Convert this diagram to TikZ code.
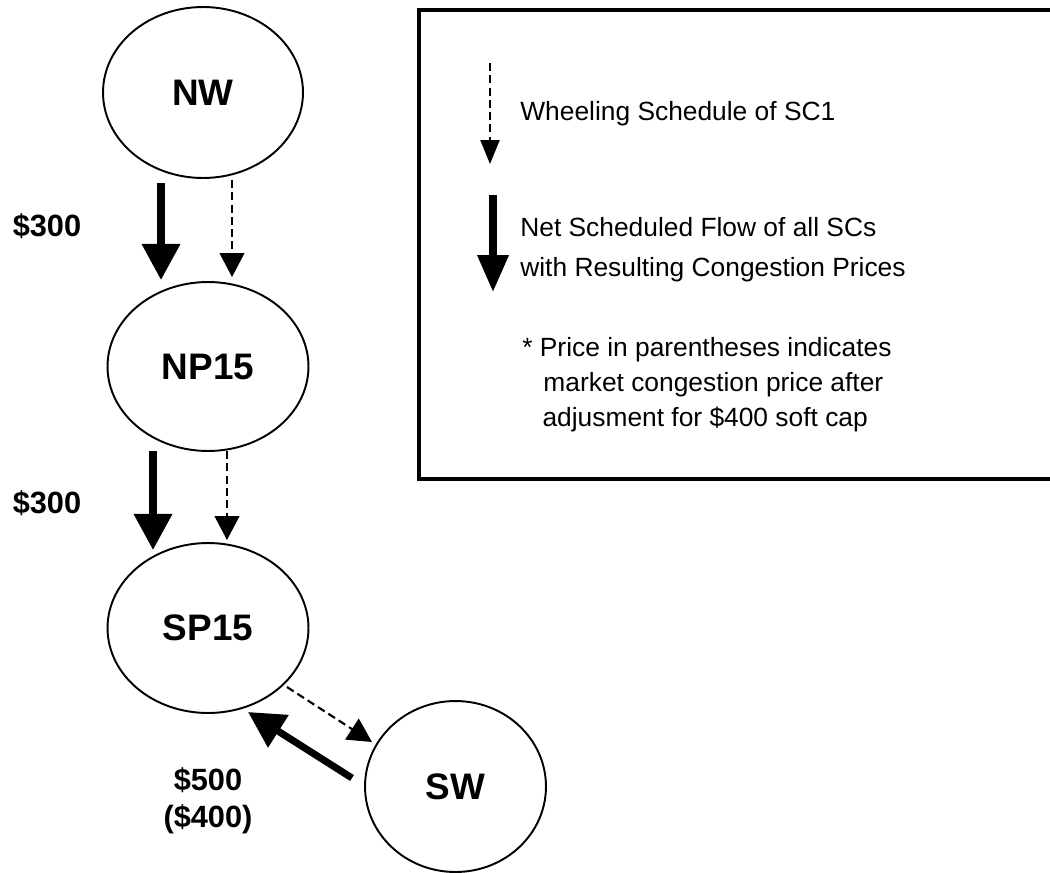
\documentclass[tikz,border=0pt]{standalone}
\usepackage{fontspec}
\setmainfont{Liberation Sans}
\usetikzlibrary{arrows.meta,shapes.geometric}

\begin{document}
\begin{tikzpicture}[x=0.02cm,y=-0.02cm,
        zone/.style={draw,ellipse,line width=1.1pt,inner sep=0pt,font=\fontsize{21}{25}\bfseries},
        flow/.style={line width=4pt,-{Triangle[length=20.5pt,width=21pt]}},
        wheel/.style={line width=1.2pt,dash pattern=on 4.5pt off 2.5pt,-{Triangle[length=13.6pt,width=14pt]}},
        price/.style={font=\fontsize{17.5}{21}\bfseries,align=center,inner sep=0pt},
        keytext/.style={font=\fontsize{15}{22.7}\selectfont,align=left,inner sep=0pt,anchor=base west}]
                        \useasboundingbox (0,0) rectangle (1050,872);

                        % zones
                        \node[zone,minimum width=4cm,minimum height=3.42cm] (NW) at (203,92.5) {NW};
                        \node[zone,minimum width=4.02cm,minimum height=3.38cm] (NP15) at (208,366.5) {NP15};
                        \node[zone,minimum width=4.02cm,minimum height=3.4cm] (SP15) at (208,628) {SP15};
                        \node[zone,minimum width=3.62cm,minimum height=3.42cm] (SW) at (455.5,786.5) {SW};

                        % prices
                        \node[price] (pNW) at (47,226) {\$300};
                        \node[price] (pNP) at (47,503) {\$300};
                        \node[price] (pSW) at (208,801) {\$500\\(\$400)};

                        % flows and schedules
                        \draw[flow] ([shift={(-42,90.5)}]NW.center) -- ([shift={(-47,-86.5)}]NP15.center);
                        \draw[wheel] ([shift={(29,87.5)}]NW.center) -- ([shift={(24,-89.5)}]NP15.center);
                        \draw[flow] ([shift={(-55,84.5)}]NP15.center) -- ([shift={(-55,-78)}]SP15.center);
                        \draw[wheel] ([shift={(19,84.5)}]NP15.center) -- ([shift={(19,-88)}]SP15.center);
                        \draw[wheel] ([shift={(79,59)}]SP15.center) -- ([shift={(-83.5,-44.5)}]SW.center);
                        \draw[flow] ([shift={(-103.5,-8.5)}]SW.center) -- ([shift={(40,84)}]SP15.center);

                        % key
                        \draw[line width=2.3pt] (419,10) rectangle (1080,479);
                        \coordinate (keyA) at (490,63);
                        \coordinate (keyB) at (490,164);
                        \draw[wheel,-{Triangle[length=13.6pt,width=10.8pt]}] (keyA) -- (keyB);
                        \coordinate (keyC) at (493,195);
                        \coordinate (keyD) at (493,292);
                        \draw[flow,-{Triangle[length=21pt,width=17pt]}] (keyC) -- (keyD);

                        % base anchor sits on the last line
                        \node[keytext] (wheelTxt) at (520,120) {Wheeling Schedule of SC1};
                        \node[keytext] (flowTxt) at (520,276.7) {Net Scheduled Flow of all SCs\\with Resulting Congestion Prices};
                        \node[keytext,font=\fontsize{15}{20}\selectfont] (noteTxt) at (522,426.7) {* Price in parentheses indicates\\\hspace*{12pt}market congestion price after\\\hspace*{11.5pt}adjusment for \$400 soft cap};
                    \end{tikzpicture}
\end{document}
